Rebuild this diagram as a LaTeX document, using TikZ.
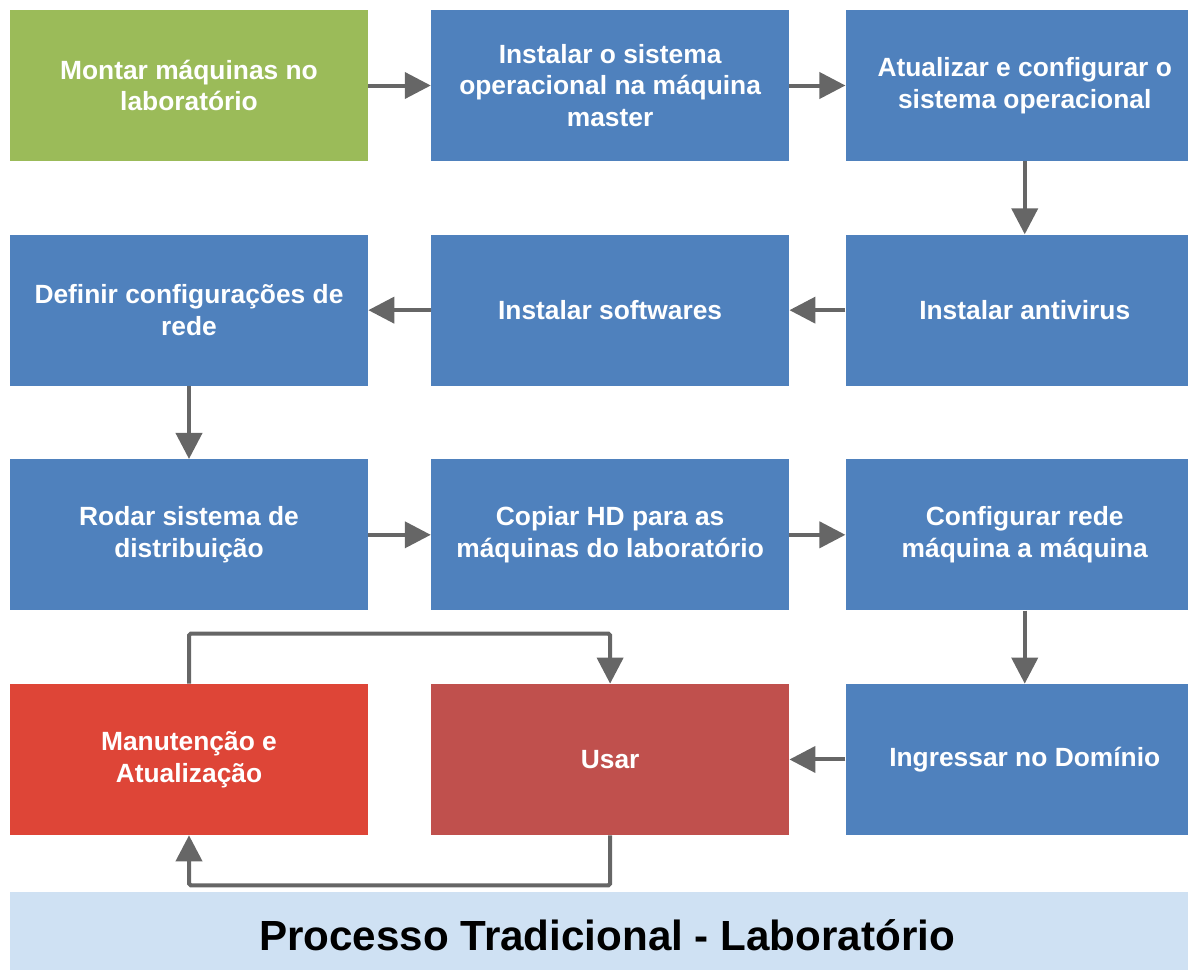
\documentclass[tikz,border=0pt]{standalone}
\usepackage{fontspec}
\setmainfont{Liberation Sans}
\usetikzlibrary{positioning,arrows.meta}
\definecolor{boxgreen}{HTML}{9BBB59}
\definecolor{boxblue}{HTML}{4F81BD}
\definecolor{boxred}{HTML}{DE4537}
\definecolor{boxdarkred}{HTML}{C0504D}
\definecolor{arrowgray}{HTML}{666666}
\definecolor{bannerblue}{HTML}{CFE1F3}

\begin{document}
\begin{tikzpicture}[x=0.02cm,y=-0.02cm,
    node distance=1.46cm and 1.25cm,
    stepbox/.style={rectangle,minimum width=7.16cm,minimum height=3.02cm,inner sep=0pt,
      fill=boxblue,text=white,align=center,font=\fontsize{15}{18}\selectfont\bfseries},
    flow/.style={line width=0.08cm,draw=arrowgray,-{Triangle[length=0.52cm,width=0.52cm]}},
    banner/.style={rectangle,minimum width=23.88cm,minimum height=1.72cm,inner sep=0pt,
      fill=bannerblue,font=\fontsize{24}{28}\selectfont\bfseries}]
  \clip (0,0) rectangle (1188,970);
  % first row
  \node[stepbox,fill=boxgreen] (montar) at (189,85.5) {Montar máquinas no\\laboratório};
  \node[stepbox,right=of montar] (instalarso) {Instalar o sistema\\operacional na máquina\\master};
  \node[stepbox,right=1.12cm of instalarso] (atualizar) {Atualizar e configurar o\\sistema operacional};
  % second row
  \node[stepbox,below=of atualizar] (antivirus) {Instalar antivirus};
  \node[stepbox,below=of instalarso] (softwares) {Instalar softwares};
  \node[stepbox,below=of montar] (rede) {Definir configurações de\\rede};
  % third row
  \node[stepbox,below=of rede] (rodar) {Rodar sistema de\\distribuição};
  \node[stepbox,below=of softwares] (copiar) {Copiar HD para as\\máquinas do laboratório};
  \node[stepbox,below=of antivirus] (configrede) {Configurar rede\\máquina a máquina};
  % fourth row
  \node[stepbox,below=of configrede] (dominio) {Ingressar no Domínio};
  \node[stepbox,fill=boxdarkred,below=of copiar] (usar) {Usar};
  \node[stepbox,fill=boxred,below=of rodar] (manutencao) {Manutenção e\\Atualização};
  \node[banner] (titulo) at (607,935) {Processo Tradicional - Laboratório};

  \draw[flow] (montar) -- (instalarso);
  \draw[flow] (instalarso) -- (atualizar);
  \draw[flow] (atualizar) -- (antivirus);
  \draw[flow] (antivirus) -- (softwares);
  \draw[flow] (softwares) -- (rede);
  \draw[flow] (rede) -- (rodar);
  \draw[flow] (rodar) -- (copiar);
  \draw[flow] (copiar) -- (configrede);
  \draw[flow] (configrede) -- (dominio);
  \draw[flow] (dominio) -- (usar);
  % loop between use and maintenance
  \draw[flow,rounded corners=1pt] (manutencao.north) -- ++(0,-50) -| (usar.north);
  \draw[flow,rounded corners=1pt] (usar.south) -- ++(0,50) -| (manutencao.south);
\end{tikzpicture}
\end{document}
